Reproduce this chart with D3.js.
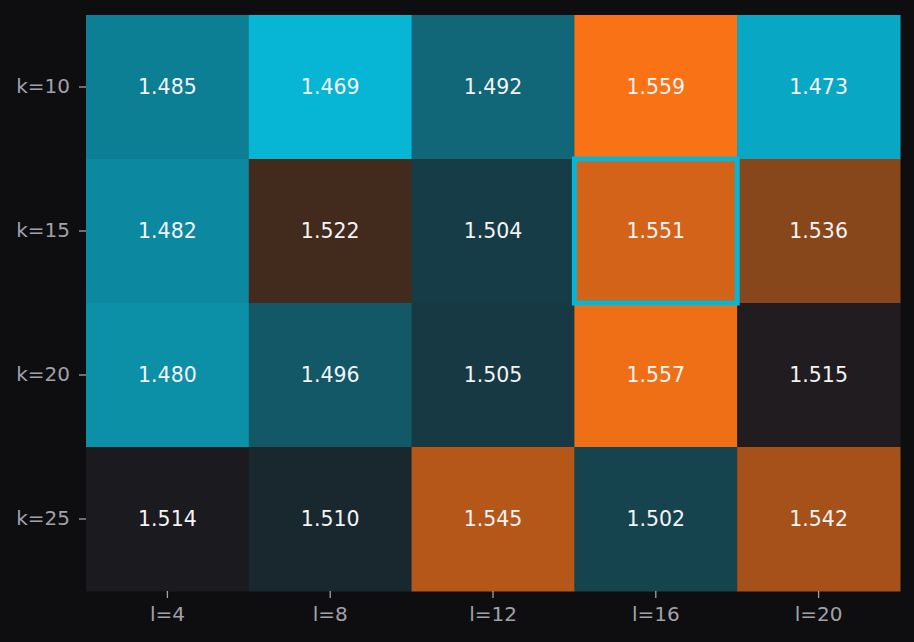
<!DOCTYPE html>
<html>
<head>
<meta charset="utf-8">
<script src="https://cdn.jsdelivr.net/npm/d3@7"></script>
<style>
  body { margin: 0; background: #0e0e10; }
  svg { display: block; }
</style>
</head>
<body>
<div id="chart"></div>
<script>
var width = 914, height = 642;
var margin = { top: 15, right: 14, bottom: 51, left: 86 };

// data
var rows = ["k=10", "k=15", "k=20", "k=25"];
var cols = ["l=4", "l=8", "l=12", "l=16", "l=20"];
var rowK10 = [1.485, 1.469, 1.492, 1.559, 1.473];
var rowK15 = [1.482, 1.522, 1.504, 1.551, 1.536];
var rowK20 = [1.480, 1.496, 1.505, 1.557, 1.515];
var rowK25 = [1.514, 1.510, 1.545, 1.502, 1.542];
var best = { row: "k=15", col: "l=16" };

var values = [rowK10, rowK15, rowK20, rowK25];
var cells = [];
values.forEach(function (r, i) {
    r.forEach(function (v, j) {
        cells.push({ row: rows[i], col: cols[j], value: v });
    });
});

var svg = d3.select("#chart").append("svg")
    .attr("width", width)
    .attr("height", height)
    .style("background", "#0e0e10");

var w = width - margin.left - margin.right;
var h = height - margin.top - margin.bottom;

var x = d3.scaleBand().domain(cols).range([0, w]);
var y = d3.scaleBand().domain(rows).range([0, h]);

var vmin = d3.min(cells, d => d.value), vmax = d3.max(cells, d => d.value);
var color = d3.scaleLinear()
    .domain([vmin, (vmin + vmax) / 2, vmax])
    .range(["#06b6d4", "#1b1a1f", "#f97316"])
    .interpolate(d3.interpolateRgb);

var g = svg.append("g")
    .attr("transform", "translate(" + margin.left + "," + margin.top + ")");

g.selectAll("rect.cell")
    .data(cells)
    .enter().append("rect")
    .attr("class", "cell")
    .attr("x", d => x(d.col))
    .attr("y", d => y(d.row))
    .attr("width", x.bandwidth() + 0.5)
    .attr("height", y.bandwidth() + 0.5)
    .attr("fill", d => color(d.value));

g.selectAll("text.val")
    .data(cells)
    .enter().append("text")
    .attr("class", "val")
    .attr("x", d => x(d.col) + x.bandwidth() / 2)
    .attr("y", d => y(d.row) + y.bandwidth() / 2)
    .attr("dy", "0.35em")
    .attr("text-anchor", "middle")
    .style("font-family", "DejaVu Sans, sans-serif")
    .style("font-size", "20.5px")
    .attr("fill", "#f4f4f5")
    .text(d => d.value.toFixed(3));

// highlight the best cell
g.append("rect")
    .attr("x", x(best.col))
    .attr("y", y(best.row))
    .attr("width", x.bandwidth())
    .attr("height", y.bandwidth())
    .attr("fill", "none")
    .attr("stroke", "#06b6d4")
    .attr("stroke-width", 5);

var xAxis = g.append("g")
    .attr("transform", "translate(0," + h + ")")
    .call(d3.axisBottom(x).tickSize(7).tickPadding(9));
var yAxis = g.append("g")
    .call(d3.axisLeft(y).tickSize(7).tickPadding(9));

[xAxis, yAxis].forEach(function (a) {
    a.select(".domain").remove();
    a.selectAll(".tick line").attr("stroke", "#a1a1aa").attr("stroke-width", 1.3);
    a.selectAll(".tick text")
        .attr("fill", "#a1a1aa")
        .style("font-family", "DejaVu Sans, sans-serif")
        .style("font-size", "20px");
});
</script>
</body>
</html>
